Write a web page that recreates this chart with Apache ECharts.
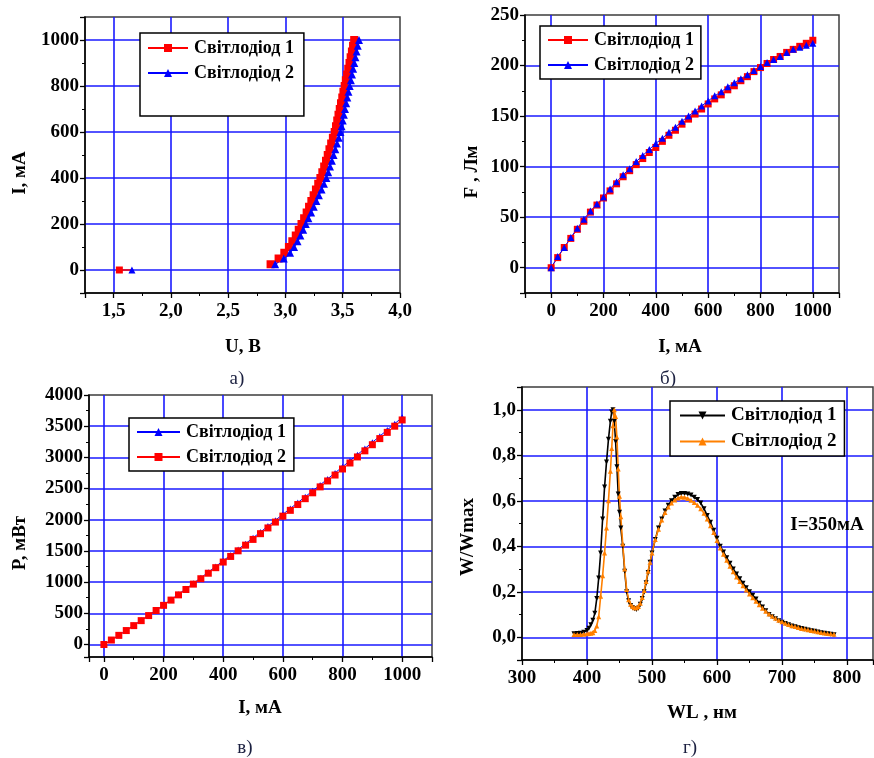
<!DOCTYPE html>
<html><head><meta charset="utf-8">
<script src="https://cdn.jsdelivr.net/npm/echarts@6/dist/echarts.min.js"></script>
<style>
html,body{margin:0;padding:0;background:#fff;}
.c{position:absolute;left:0;top:0;width:874px;height:758px;}
</style>
</head><body>
<div id="pa" class="c"></div><div id="pb" class="c"></div><div id="pc" class="c"></div><div id="pd" class="c"></div>
<script>
// ---------- DATA ----------
const name1 = 'Світлодіод 1';
const name2 = 'Світлодіод 2';

// Panel а) I(U)
const ivCurrent = [25,50,75,100,125,150,175,200,225,250,275,300,325,350,375,400,425,450,475,500,525,550,575,600,625,650,675,700,725,750,775,800,825,850,875,900,925,950,975,1000];
const ivVoltage1 = [2.87,2.94,2.99,3.03,3.06,3.09,3.116,3.14,3.163,3.185,3.206,3.226,3.246,3.266,3.286,3.305,3.322,3.338,3.354,3.369,3.384,3.399,3.414,3.43,3.441,3.452,3.463,3.474,3.485,3.496,3.506,3.517,3.527,3.538,3.548,3.559,3.569,3.58,3.59,3.60];
const ivVoltage2 = [2.91,2.985,3.04,3.075,3.105,3.13,3.155,3.177,3.2,3.224,3.247,3.27,3.292,3.315,3.336,3.357,3.373,3.389,3.405,3.42,3.435,3.45,3.465,3.48,3.49,3.5,3.51,3.52,3.53,3.54,3.55,3.561,3.571,3.581,3.591,3.601,3.611,3.621,3.631,3.642];
const lowVoltage1 = [1.55, 1.66];
const lowCurrent1 = [0, 0];
const lowVoltage2 = [1.66];
const lowCurrent2 = [0];

// Panel б) F(I)
const fluxCurrent = [0,25,50,75,100,125,150,175,200,225,250,275,300,325,350,375,400,425,450,475,500,525,550,575,600,625,650,675,700,725,750,775,800,825,850,875,900,925,950,975,1000];
const flux1 = [0,10,20,29,38,46,55,62,69,76,83,90,96,102,108,114,119,125,131,136,142,147,152,157,162,167,171,176,180,185,189,194,198,202,206,209,213,216,219,222,225];
const flux2 = [0,11,20,30,39,48,56,63,70,78,85,92,98,105,111,117,123,128,134,139,145,150,155,160,165,170,174,179,183,187,191,195,199,203,206,209,213,216,218,220,222];

// Panel в) P(I)
const powerCurrent = [0,25,50,75,100,125,150,175,200,225,250,275,300,325,350,375,400,425,450,475,500,525,550,575,600,625,650,675,700,725,750,775,800,825,850,875,900,925,950,975,1000];
const power1 = [0,73,149,228,308,388,470,552,635,720,806,893,981,1070,1160,1251,1343,1434,1525,1617,1710,1803,1898,1992,2088,2181,2275,2369,2464,2559,2655,2751,2849,2946,3044,3142,3241,3340,3440,3540,3642];
const power2 = [0,72,147,224,303,383,464,545,628,712,796,882,968,1055,1143,1232,1322,1412,1502,1593,1685,1777,1869,1963,2058,2151,2244,2338,2432,2527,2622,2717,2814,2910,3007,3105,3203,3301,3401,3500,3600];

// Panel г) spectra W/Wmax(WL)
const wavelength = [380,385,390,395,400,403,406,409,412,415,418,421,424,427,430,433,436,438,440,442,444,446,448,450,452,455,458,461,464,467,470,473,476,479,482,485,488,491,494,497,500,505,510,515,520,525,530,535,540,545,550,555,560,565,570,575,580,585,590,595,600,605,610,615,620,625,630,635,640,645,650,655,660,665,670,675,680,685,690,695,700,705,710,715,720,725,730,735,740,745,750,755,760,765,770,775,780];
const spectrum1 = [0.015,0.016,0.018,0.022,0.03,0.04,0.055,0.075,0.105,0.17,0.26,0.37,0.52,0.66,0.77,0.87,0.95,0.99,1.0,0.95,0.86,0.75,0.63,0.55,0.48,0.4,0.29,0.2,0.16,0.14,0.13,0.125,0.122,0.128,0.145,0.17,0.2,0.24,0.285,0.33,0.37,0.43,0.48,0.52,0.555,0.58,0.6,0.615,0.627,0.632,0.632,0.63,0.625,0.615,0.605,0.59,0.565,0.535,0.505,0.47,0.435,0.4,0.375,0.35,0.325,0.3,0.278,0.257,0.237,0.218,0.2,0.185,0.168,0.15,0.133,0.117,0.1,0.09,0.081,0.073,0.066,0.06,0.055,0.05,0.046,0.042,0.038,0.035,0.032,0.029,0.026,0.023,0.02,0.018,0.015,0.013,0.011];
const spectrum2 = [0.012,0.012,0.012,0.013,0.015,0.016,0.018,0.02,0.03,0.05,0.09,0.18,0.27,0.37,0.48,0.6,0.73,0.83,0.93,1.0,0.97,0.88,0.74,0.62,0.53,0.41,0.3,0.21,0.165,0.145,0.135,0.13,0.13,0.135,0.15,0.175,0.205,0.245,0.29,0.33,0.37,0.43,0.475,0.515,0.548,0.572,0.59,0.603,0.612,0.616,0.615,0.61,0.602,0.592,0.58,0.565,0.545,0.52,0.49,0.46,0.425,0.392,0.365,0.338,0.312,0.288,0.265,0.245,0.226,0.208,0.19,0.174,0.158,0.143,0.128,0.114,0.102,0.092,0.083,0.075,0.068,0.062,0.056,0.051,0.047,0.043,0.039,0.036,0.033,0.03,0.027,0.024,0.021,0.019,0.017,0.015,0.013];

// ---------- STYLE HELPERS ----------
const SERIF = '"Liberation Serif", "Times New Roman", serif';
const GRID_BLUE = '#1a1aff';
const comma1 = v => v.toFixed(1).replace('.', ',');
const plain = v => String(Math.round(v));

function axis(o) {
  return {
    type: 'value', min: o.min, max: o.max, splitNumber: o.split,
    position: o.pos,
    axisLine: {show: true, onZero: false, lineStyle: {color: '#000', width: 1.5}},
    axisTick: {show: true, inside: false, length: 5, lineStyle: {color: '#000', width: 1.3}},
    minorTick: {show: true, splitNumber: 2, length: 3, lineStyle: {color: '#000', width: 1}},
    splitLine: {show: true, showMinLine: false, showMaxLine: false, lineStyle: {color: GRID_BLUE, width: 1.6}},
    axisLabel: {
      show: true, showMinLabel: o.showMin, showMaxLabel: o.showMax,
      margin: o.margin, formatter: o.fmt,
      fontFamily: SERIF, fontWeight: 'bold', fontSize: o.fs || 19, color: '#000'
    }
  };
}
function grid(l, t, w, h) {
  return {left: l, top: t, width: w, height: h, show: true, borderColor: '#3c3c3c', borderWidth: 1.5, backgroundColor: 'transparent', containLabel: false};
}
function txt(text, x, y, opt) {
  opt = opt || {};
  return {
    type: 'text', x: x, y: y, rotation: opt.rot || 0, z: 100,
    style: {
      text: text, fill: opt.color || '#000',
      font: (opt.weight || 'bold') + ' ' + (opt.size || 19) + 'px ' + SERIF,
      align: 'center', verticalAlign: 'middle', textAlign: 'center', textVerticalAlign: 'middle'
    }
  };
}
function legend(o) {
  return {
    orient: 'vertical', left: o.left, top: o.top, padding: o.padding,
    itemGap: o.gap, itemWidth: o.iw, itemHeight: 10,
    backgroundColor: '#fff', borderColor: '#000', borderWidth: 1.5, borderRadius: 0,
    selectedMode: false,
    textStyle: {fontFamily: SERIF, fontWeight: 'bold', fontSize: o.fs || 18, color: '#000', padding: [0, 0, 0, 1]},
    data: [name1, name2]
  };
}
function pairs(xs, ys) { return xs.map((x, i) => [x, ys[i]]); }
function lineSeries(name, data, color, symbol, size, width, extra) {
  return Object.assign({
    name: name, type: 'line', data: data, symbol: symbol, symbolSize: size,
    showSymbol: true, showAllSymbol: true,
    itemStyle: {color: color}, lineStyle: {color: color, width: width},
    emphasis: {disabled: true}, animation: false
  }, extra || {});
}
const CAPTION = {weight: 'normal', size: 19, color: '#1b2040'};

// ---------- PANEL а ----------
const chartA = echarts.init(document.getElementById('pa'));
chartA.setOption({
  animation: false,
  grid: grid(85, 17, 315, 276),
  xAxis: axis({min: 1.25, max: 4.0, split: 5, pos: 'bottom', showMin: false, showMax: true, margin: 9, fmt: comma1}),
  yAxis: axis({min: -100, max: 1100, split: 6, pos: 'left', showMin: false, showMax: false, margin: 6, fmt: plain}),
  legend: legend({left: 140, top: 33, padding: [6, 10, 34, 7], gap: 7, iw: 40}),
  series: [
    lineSeries(name1, pairs(ivVoltage1, ivCurrent), '#ff0000', 'rect', 8, 1.5),
    lineSeries(name2, pairs(ivVoltage2, ivCurrent), '#0000ff', 'triangle', 8, 1.5),
    lineSeries(name1, pairs(lowVoltage1, lowCurrent1).map((p, i) => i === 0 ? p : {value: p, symbol: 'none'}), '#ff0000', 'rect', 7, 1.5),
    lineSeries(name2, pairs(lowVoltage2, lowCurrent2), '#0000ff', 'triangle', 7, 1.5)
  ],
  graphic: [
    txt('I, мА', 20, 173, {rot: Math.PI / 2}),
    txt('U, В', 243, 347),
    txt('а)', 237, 379, CAPTION)
  ]
});

// ---------- PANEL б ----------
const chartB = echarts.init(document.getElementById('pb'));
chartB.setOption({
  animation: false,
  grid: grid(525, 15, 314, 278),
  xAxis: axis({min: -100, max: 1100, split: 6, pos: 'bottom', showMin: false, showMax: false, margin: 9, fmt: plain}),
  yAxis: axis({min: -25, max: 250, split: 5, pos: 'left', showMin: false, showMax: true, margin: 6, fmt: plain}),
  legend: legend({left: 540, top: 26, padding: [5, 7, 5, 7], gap: 7, iw: 40}),
  series: [
    lineSeries(name1, pairs(fluxCurrent, flux1), '#ff0000', 'rect', 7, 1),
    lineSeries(name2, pairs(fluxCurrent, flux2), '#0000ff', 'triangle', 7, 1)
  ],
  graphic: [
    txt('F , Лм', 472, 172, {rot: Math.PI / 2}),
    txt('I, мА', 680, 347),
    txt('б)', 668, 379, CAPTION)
  ]
});

// ---------- PANEL в ----------
const chartC = echarts.init(document.getElementById('pc'));
chartC.setOption({
  animation: false,
  grid: grid(89, 395, 343, 262),
  xAxis: axis({min: -50, max: 1100, split: 6, pos: 'bottom', showMin: false, showMax: false, margin: 9, fmt: plain}),
  yAxis: axis({min: -200, max: 4000, split: 8, pos: 'left', showMin: false, showMax: true, margin: 6, fmt: plain}),
  legend: legend({left: 129, top: 418, padding: [5, 8, 5, 7], gap: 7, iw: 43}),
  series: [
    lineSeries(name1, pairs(powerCurrent, power1), '#0000ff', 'triangle', 6, 1),
    lineSeries(name2, pairs(powerCurrent, power2), '#ff0000', 'rect', 7, 1)
  ],
  graphic: [
    txt('P, мВт', 20, 543, {rot: Math.PI / 2}),
    txt('I, мА', 260, 708),
    txt('в)', 245, 748, CAPTION)
  ]
});

// ---------- PANEL г ----------
const chartD = echarts.init(document.getElementById('pd'));
chartD.setOption({
  animation: false,
  grid: grid(522, 387, 351, 273),
  xAxis: axis({min: 300, max: 840, split: 6, pos: 'bottom', showMin: true, showMax: false, margin: 9, fmt: plain}),
  yAxis: axis({min: -0.1, max: 1.1, split: 6, pos: 'left', showMin: false, showMax: false, margin: 6, fmt: comma1}),
  legend: legend({left: 670, top: 401, padding: [5, 8, 5, 9], gap: 7, iw: 45, fs: 19}),
  series: [
    lineSeries(name1, pairs(wavelength, spectrum1), '#000000', 'triangle', 5, 1.6, {symbolRotate: 180}),
    lineSeries(name2, pairs(wavelength, spectrum2), '#ff8000', 'triangle', 5, 1.6)
  ],
  graphic: [
    txt('W/Wmax', 468, 537, {rot: Math.PI / 2}),
    txt('WL , нм', 702, 713),
    txt('I=350мА', 827, 525),
    txt('г)', 690, 748, CAPTION)
  ]
});
</script>
</body></html>
